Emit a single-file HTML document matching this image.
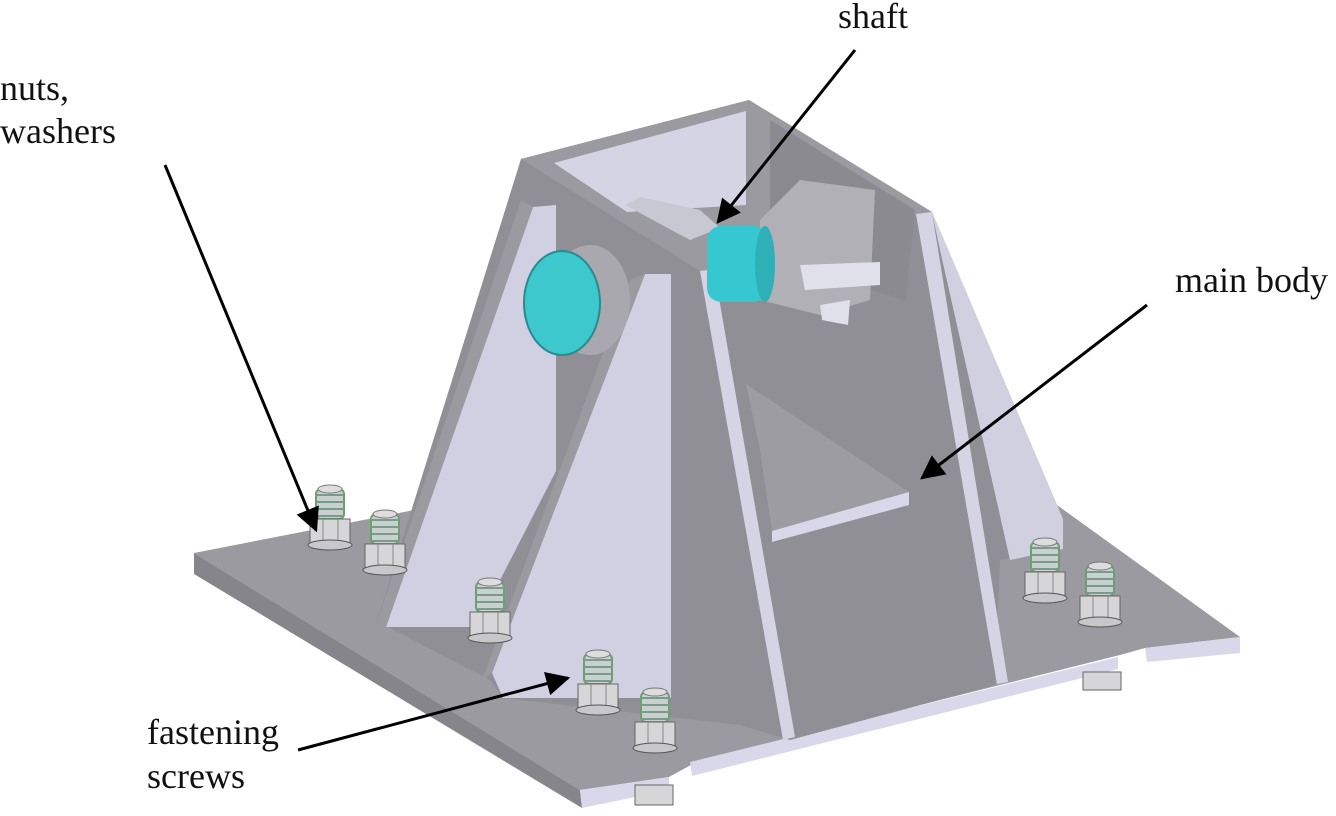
<!DOCTYPE html>
<html><head><meta charset="utf-8"><style>
html,body{margin:0;padding:0;background:#fff;}
svg{display:block}
text{font-family:"Liberation Serif",serif;font-size:36px;fill:#111}
</style></head><body>
<svg width="1336" height="816" viewBox="0 0 1336 816" xmlns="http://www.w3.org/2000/svg">
<defs>
<marker id="ah" viewBox="0 0 10 10" refX="9" refY="5" markerWidth="9" markerHeight="8" orient="auto" markerUnits="strokeWidth">
<path d="M0,0 L10,5 L0,10 z" fill="#000"/></marker>
<g id="bolt">
<rect x="-14" y="-46" width="28" height="30" rx="5" fill="#c9d0d0" stroke="#6aa070" stroke-width="2"/>
<path d="M-14,-40 h28 M-14,-33 h28 M-14,-26 h28 M-14,-19 h28" stroke="#7a9a8a" stroke-width="2"/>
<ellipse cx="0" cy="-46" rx="12" ry="4" fill="#ddd" stroke="#777"/>
<rect x="-20" y="-16" width="40" height="24" fill="#d6d6d8" stroke="#666"/>
<line x1="-7" y1="-16" x2="-7" y2="8" stroke="#888"/><line x1="8" y1="-16" x2="8" y2="8" stroke="#888"/>
<ellipse cx="0" cy="10" rx="22" ry="5" fill="#c8c8cc" stroke="#555"/>
</g>
</defs>

<polygon points="194,553 440,505 1050,500 1240,637 1145,648 1120,655 700,760 669,777 580,790" fill="#9a9aa0"/>
<polygon points="194,553 194,574 582,808 580,790" fill="#85858b"/>
<polygon points="580,790 669,777 669,790 582,808" fill="#d8d8ea"/>
<polygon points="690,762 1118,657 1118,669 692,776" fill="#d8d8ea"/>
<polygon points="1145,648 1240,637 1240,653 1147,662" fill="#d8d8ea"/>
<line x1="774" y1="549" x2="994" y2="682" stroke="#7a7a80" stroke-width="1.5"/>

<polygon points="521,159 749,100 932,212 1063,519 1063,549 1000,560 995,685 790,740 740,725 503,698 490,680 388,627 375,627" fill="#8f8f95"/>
<polygon points="521,159 749,100 932,212 700,271" fill="#9a9aa0"/>
<polygon points="554,163 746,111 746,205 627,212" fill="#d4d4e4"/>
<polygon points="770,120 915,210 905,300 770,260" fill="#8a8a90"/>
<polygon points="932,212 1063,519 1063,549 1010,560 940,250" fill="#d0d0e0"/>
<polygon points="916,214 932,212 1008,682 997,684" fill="#d4d4e4"/>
<polygon points="700,271 714,269 795,737 783,740" fill="#d4d4e4"/>
<polygon points="746,384 909,492 909,500 772,531 760,450" fill="#9c9ca2"/>
<polygon points="772,531 909,492 909,505 772,542" fill="#d8d8ea"/>
<polygon points="533,207 556,205 556,471 476,627 386,627" fill="#d0d0e2"/>
<polygon points="521,200 533,207 386,627 375,627" fill="#9a9aa0"/>
<polygon points="645,274 671,274 671,698 503,698 492,673" fill="#d0d0e2"/>
<polygon points="630,280 645,274 492,673 482,680" fill="#9a9aa0"/>

<ellipse cx="590" cy="300" rx="40" ry="55" fill="#a8a8ae"/>
<ellipse cx="562" cy="303" rx="38" ry="52" fill="#3cc8cc" stroke="#2a8a90" stroke-width="2"/>
<polygon points="760,220 800,180 875,190 870,300 820,315 760,300" fill="#b0b0b6"/>
<polygon points="800,265 880,262 880,285 805,290" fill="#e0e0ea"/>
<polygon points="820,305 850,300 848,325 822,320" fill="#e0e0ea"/>
<polygon points="625,205 640,197 700,210 720,228 690,240" fill="#c8c8d2"/>
<rect x="707" y="226" width="60" height="76" rx="14" fill="#36c8d0"/>
<ellipse cx="765" cy="264" rx="10" ry="38" fill="#2fb0b8"/>

<use href="#bolt" x="330" y="535"/>
<use href="#bolt" x="385" y="560"/>
<use href="#bolt" x="490" y="628"/>
<use href="#bolt" x="598" y="700"/>
<use href="#bolt" x="655" y="738"/>
<use href="#bolt" x="1045" y="588"/>
<use href="#bolt" x="1100" y="612"/>
<rect x="635" y="785" width="38" height="20" fill="#d6d6d8" stroke="#666"/>
<rect x="1083" y="672" width="38" height="18" fill="#d6d6d8" stroke="#666"/>

<g stroke="#000" stroke-width="3" fill="none">
<line x1="855" y1="50" x2="718" y2="222" marker-end="url(#ah)"/>
<line x1="165" y1="165" x2="316" y2="530" marker-end="url(#ah)"/>
<line x1="1147" y1="305" x2="922" y2="478" marker-end="url(#ah)"/>
<line x1="298" y1="750" x2="568" y2="678" marker-end="url(#ah)"/>
</g>

<text x="838" y="28">shaft</text>
<text x="0" y="100">nuts,</text>
<text x="0" y="143">washers</text>
<text x="1175" y="292">main body</text>
<text x="147" y="744">fastening</text>
<text x="147" y="788">screws</text>
</svg>
</body></html>
